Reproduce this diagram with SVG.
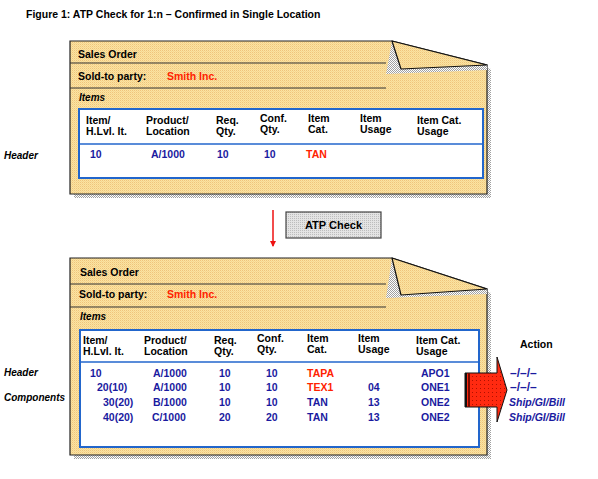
<svg xmlns="http://www.w3.org/2000/svg" width="598" height="479" viewBox="0 0 598 479">
<defs>
<pattern id="paper" width="2" height="2" patternUnits="userSpaceOnUse">
<rect width="2" height="2" fill="#fbe4a2"/>
<rect width="1" height="1" fill="#efc47c"/>
<rect x="1" y="1" width="1" height="1" fill="#f6d690"/>
</pattern>
<pattern id="shade" width="2" height="2" patternUnits="userSpaceOnUse">
<rect width="2" height="2" fill="#ffffff"/>
<rect width="1" height="1" fill="#a0a0a0"/>
<rect x="1" y="1" width="1" height="1" fill="#a0a0a0"/>
</pattern>
<pattern id="gray" width="2" height="2" patternUnits="userSpaceOnUse">
<rect width="2" height="2" fill="#e4e4e4"/>
<rect width="1" height="1" fill="#bdbdbd"/>
</pattern>
<pattern id="redp" width="4" height="4" patternUnits="userSpaceOnUse">
<rect width="4" height="4" fill="#ff2a10"/>
<rect width="1" height="1" fill="#b01000"/>
</pattern>
<marker id="ah" markerWidth="6" markerHeight="6" refX="5" refY="3" orient="auto" markerUnits="userSpaceOnUse">
<path d="M0,0 L6,3 L0,6 Z" fill="#ee1111"/>
</marker>
</defs>
<style>
text{font-family:"Liberation Sans",Arial,sans-serif;font-weight:bold;font-size:10.5px;fill:#000}
.b{fill:#1a1aa0}
.r{fill:#ff2200}
.i{font-style:italic}
.doc{fill:url(#paper);stroke:#222;stroke-width:1.2}
.flap{fill:url(#paper);stroke:#111;stroke-width:1.2;stroke-linejoin:round}
.sep{stroke:#333;stroke-width:1.2}
.tbl{fill:#fff;stroke:#2266cc;stroke-width:2}
.div{stroke:#2266cc;stroke-width:1.5}
.dash{font-size:12px}
</style>
<text x="26" y="18" style="font-size:10.5px">Figure 1: ATP Check for 1:n – Confirmed in Single Location</text>

<g id="doc-top">
<path d="M74,45 L396,45 L491,69 L491,198 L74,198 Z" fill="url(#shade)"/>
<path class="doc" d="M70,41 L392,41 L487,65 L487,194 L70,194 Z"/>
<path d="M392,41 L386,74 L487,70 L487,65 L401,69 Z" fill="url(#shade)"/>
<path class="flap" d="M392,41 L401,69 L487,65 Z"/>
<line class="sep" x1="70" y1="63" x2="386" y2="63"/>
<line class="sep" x1="70" y1="88" x2="386" y2="88"/>
<text x="78" y="58">Sales Order</text>
<text x="78" y="80">Sold-to party:</text>
<text x="167" y="80" class="r">Smith Inc.</text>
<text x="79" y="101" class="i" style="font-size:10px">Items</text>
<rect class="tbl" x="79" y="109" width="404" height="69"/>
<line class="div" x1="79" y1="144" x2="483" y2="144"/>
<text x="86" y="124">Item/</text><text x="86" y="135">H.Lvl. It.</text>
<text x="146" y="124">Product/</text><text x="146" y="135">Location</text>
<text x="216" y="124">Req.</text><text x="216" y="135">Qty.</text>
<text x="260" y="122">Conf.</text><text x="260" y="133">Qty.</text>
<text x="308" y="122">Item</text><text x="308" y="133">Cat.</text>
<text x="360" y="122">Item</text><text x="360" y="133">Usage</text>
<text x="417" y="124">Item Cat.</text><text x="417" y="135">Usage</text>
<text x="90" y="158" class="b">10</text>
<text x="151" y="158" class="b">A/1000</text>
<text x="217" y="158" class="b">10</text>
<text x="264" y="158" class="b">10</text>
<text x="306" y="158" class="r">TAN</text>
</g>
<text x="4" y="159" class="i" style="font-size:10px">Header</text>

<g id="connectors">
<line x1="273" y1="210" x2="273" y2="246" stroke="#ee1111" stroke-width="1.5" marker-end="url(#ah)"/>
</g>

<g id="atp-check">
<rect x="286" y="212" width="95" height="26" fill="url(#gray)" stroke="#444" stroke-width="1.2"/>
<text x="333.5" y="229" text-anchor="middle" style="font-size:11px">ATP Check</text>
</g>

<g id="doc-bottom">
<path d="M74,262 L396,262 L491,293 L491,459 L74,459 Z" fill="url(#shade)"/>
<path class="doc" d="M70,258 L392,258 L487,289 L487,455 L70,455 Z"/>
<path d="M392,258 L386,298 L487,294 L487,289 L401,295 Z" fill="url(#shade)"/>
<path class="flap" d="M392,258 L401,295 L487,289 Z"/>
<line class="sep" x1="70" y1="284" x2="386" y2="284"/>
<line class="sep" x1="70" y1="307" x2="386" y2="307"/>
<text x="80" y="276">Sales Order</text>
<text x="79" y="298">Sold-to party:</text>
<text x="167" y="298" class="r">Smith Inc.</text>
<text x="80" y="320" class="i" style="font-size:10px">Items</text>
<rect class="tbl" x="80" y="330" width="399" height="117"/>
<line class="div" x1="80" y1="362" x2="479" y2="362"/>
<text x="83" y="344">Item/</text><text x="83" y="355">H.Lvl. It.</text>
<text x="144" y="344">Product/</text><text x="144" y="355">Location</text>
<text x="214" y="344">Req.</text><text x="214" y="355">Qty.</text>
<text x="257" y="342">Conf.</text><text x="257" y="353">Qty.</text>
<text x="307" y="342">Item</text><text x="307" y="353">Cat.</text>
<text x="358" y="342">Item</text><text x="358" y="353">Usage</text>
<text x="416" y="344">Item Cat.</text><text x="416" y="355">Usage</text>
<g class="rows">
<text x="90" y="377" class="b">10</text>
<text x="97" y="391" class="b">20(10)</text>
<text x="103" y="406" class="b">30(20)</text>
<text x="103" y="421" class="b">40(20)</text>
<text x="153" y="377" class="b">A/1000</text>
<text x="153" y="391" class="b">A/1000</text>
<text x="153" y="406" class="b">B/1000</text>
<text x="152" y="421" class="b">C/1000</text>
<text x="219" y="377" class="b">10</text>
<text x="219" y="391" class="b">10</text>
<text x="219" y="406" class="b">10</text>
<text x="219" y="421" class="b">20</text>
<text x="266" y="377" class="b">10</text>
<text x="266" y="391" class="b">10</text>
<text x="266" y="406" class="b">10</text>
<text x="266" y="421" class="b">20</text>
<text x="307" y="377" class="r">TAPA</text>
<text x="307" y="391" class="r">TEX1</text>
<text x="307" y="406" class="b">TAN</text>
<text x="307" y="421" class="b">TAN</text>
<text x="368" y="391" class="b">04</text>
<text x="368" y="406" class="b">13</text>
<text x="368" y="421" class="b">13</text>
<text x="421" y="377" class="b">APO1</text>
<text x="421" y="391" class="b">ONE1</text>
<text x="421" y="406" class="b">ONE2</text>
<text x="421" y="421" class="b">ONE2</text>
</g>
</g>
<text x="4" y="376" class="i" style="font-size:10px">Header</text>
<text x="4" y="401" class="i" style="font-size:10px">Components</text>

<g id="action-arrow">
<path d="M465,373 L497,373 L497,357 L507,390 L497,422 L497,407 L465,407 Z" fill="url(#redp)" stroke="#111" stroke-width="1"/>
<rect x="465" y="373" width="2" height="34" fill="#111"/>
<rect x="468" y="373" width="2" height="34" fill="#7a0a00"/>
</g>
<g id="action">
<text x="520" y="348">Action</text>
<text x="510" y="377" class="b dash">–/–/–</text>
<text x="510" y="391" class="b dash">–/–/–</text>
<text x="509" y="406" class="b i">Ship/GI/Bill</text>
<text x="509" y="421" class="b i">Ship/GI/Bill</text>
</g>
</svg>
